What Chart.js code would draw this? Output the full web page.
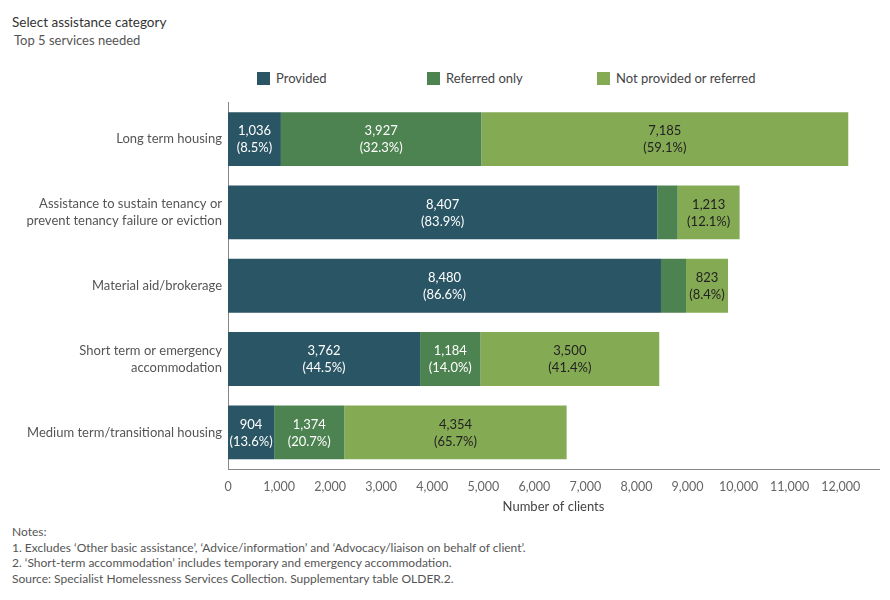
<!DOCTYPE html>
<html>
<head>
<meta charset="utf-8">
<script src="https://cdn.jsdelivr.net/npm/chart.js@4/dist/chart.umd.min.js"></script>
<style>
  body { margin: 0; background: #fff; font-family: Lato, "Noto Sans", sans-serif; color: #555; }
  #wrap { position: relative; width: 890px; height: 600px; }
  .title { position: absolute; left: 12px; top: 14px; font-size: 13.5px; color: #333; }
  .subtitle { position: absolute; left: 14px; top: 32px; font-size: 13px; color: #555; }
  .legend { position: absolute; top: 70px; font-size: 13px; color: #444; }
  .legend span.box { display: inline-block; width: 13px; height: 13px; vertical-align: -2px; margin-right: 6px; }
  .notes { position: absolute; left: 12px; top: 524px; font-size: 12px; line-height: 15.5px; color: #555; }
  #chartBox { position: absolute; left: 0; top: 88px; width: 890px; height: 427px; }
</style>
</head>
<body>
<div id="wrap">
  <div class="title">Select assistance category</div>
  <div class="subtitle">Top 5 services needed</div>
  <div class="legend" style="left:257px"><span class="box" style="background:#2a5564"></span>Provided</div>
  <div class="legend" style="left:427px"><span class="box" style="background:#4c8351"></span>Referred only</div>
  <div class="legend" style="left:597px"><span class="box" style="background:#85aa54"></span>Not provided or referred</div>
  <div id="chartBox"><canvas id="servicesChart"></canvas></div>
  <div class="notes">
    Notes:<br>
    1. Excludes ‘Other basic assistance’, ‘Advice/information’ and ‘Advocacy/liaison on behalf of client’.<br>
    2. ‘Short-term accommodation’ includes temporary and emergency accommodation.<br>
    Source: Specialist Homelessness Services Collection. Supplementary table OLDER.2.
  </div>
</div>
<script>
const categories = [
  "Long term housing",
  ["Assistance to sustain tenancy or", "prevent tenancy failure or eviction"],
  "Material aid/brokerage",
  ["Short term or emergency", "accommodation"],
  "Medium term/transitional housing",
];
const provided = [1036, 8407, 8480, 3762, 904];
const referredOnly = [3927, 400, 490, 1184, 1374];
const notProvided = [7185, 1213, 823, 3500, 4354];
const xTicks = [0, 1000, 2000, 3000, 4000, 5000, 6000, 7000, 8000, 9000, 10000, 11000, 12000];

const rowTotals = provided.map((v, i) => v + referredOnly[i] + notProvided[i]);

// draws "value (pct%)" inside each segment that is wide enough
const segmentLabels = {
  id: "segmentLabels",
  afterDatasetsDraw(chart) {
    const ctx = chart.ctx;
    ctx.save();
    ctx.font = '13px Lato, sans-serif';
    ctx.textAlign = "center";
    ctx.textBaseline = "middle";
    chart.data.datasets.forEach((ds, di) => {
      const meta = chart.getDatasetMeta(di);
      meta.data.forEach((bar, i) => {
        const w = Math.abs(bar.x - bar.base);
        if (w < 30) return;
        const v = ds.data[i];
        const pct = ((v / rowTotals[i]) * 100).toFixed(1);
        const cx = (bar.x + bar.base) / 2;
        ctx.fillStyle = ds.labelColor;
        ctx.fillText(v.toLocaleString("en-US"), cx, bar.y - 8);
        ctx.fillText("(" + pct + "%)", cx, bar.y + 9);
      });
    });
    ctx.restore();
  },
};

new Chart(document.getElementById("servicesChart").getContext("2d"), {
  type: "bar",
  data: {
    labels: categories,
    datasets: [
      { label: "Provided", data: provided, backgroundColor: "#2a5564", labelColor: "#ffffff" },
      { label: "Referred only", data: referredOnly, backgroundColor: "#4c8351", labelColor: "#ffffff" },
      { label: "Not provided or referred", data: notProvided, backgroundColor: "#85aa54", labelColor: "#222222" },
    ],
  },
  options: {
    indexAxis: "y",
    responsive: true,
    maintainAspectRatio: false,
    animation: false,
    layout: { padding: { top: 6, right: 11, left: 0, bottom: 0 } },
    categoryPercentage: 0.735,
    barPercentage: 1,
    plugins: {
      legend: { display: false },
      tooltip: { enabled: false },
    },
    scales: {
      x: {
        stacked: true,
        min: 0,
        max: 12750,
        afterBuildTicks: (scale) => {
          scale.ticks = xTicks.map((v) => ({ value: v }));
        },
        afterFit: (scale) => { scale.height = 46; },
        grid: { display: false, drawTicks: true, tickLength: 5, color: "#888" },
        border: { display: true, color: "#888" },
        ticks: {
          color: "#666",
          font: { family: "Lato", size: 12.5 },
          padding: 5,
          maxRotation: 0,
          callback: (v) => v.toLocaleString("en-US"),
        },
        title: {
          display: true,
          text: "Number of clients",
          color: "#444",
          font: { family: "Lato", size: 13 },
          padding: { top: 0, bottom: 0 },
        },
      },
      y: {
        stacked: true,
        afterFit: (scale) => { scale.width = 228; },
        grid: { display: false, drawTicks: false },
        border: { display: true, color: "#888" },
        ticks: {
          color: "#555",
          font: { family: "Lato", size: 13, lineHeight: 1.3 },
          padding: 6,
        },
      },
    },
  },
  plugins: [segmentLabels],
});
</script>
</body>
</html>
